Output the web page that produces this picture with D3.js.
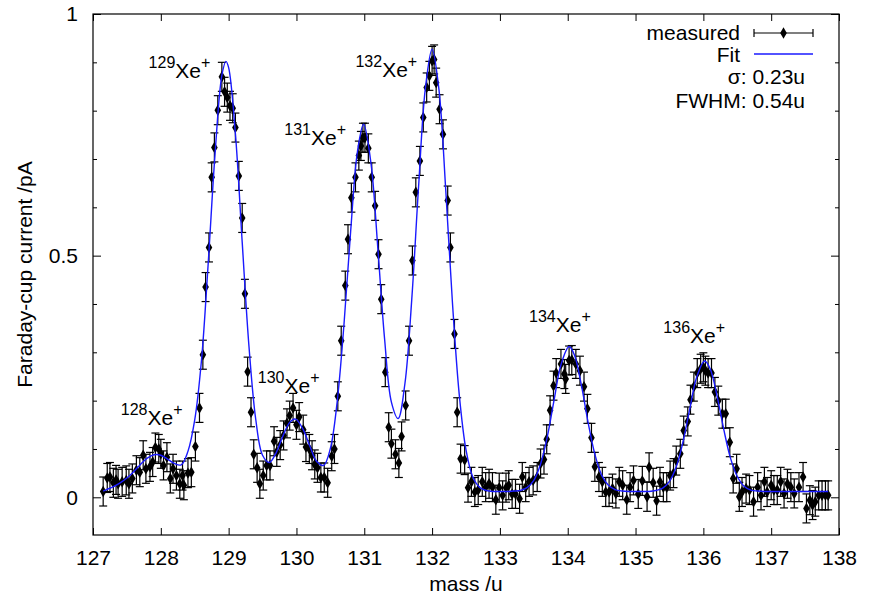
<!doctype html>
<meta charset="utf-8" />
<style>
    body {
        margin: 0;
        background: #fff;
    }
    svg {
        display: block;
        font-family: "Liberation Sans", Arial, sans-serif;
    }
</style>
<svg></svg>

<script src="https://cdn.jsdelivr.net/npm/d3@7/dist/d3.min.js"></script>
<script>
    // axis ticks
    var xTicks = [127, 128, 129, 130, 131, 132, 133, 134, 135, 136, 137, 138]
    var yTicks = [0, 0.5, 1]
    var yMinorTicks = [0.1, 0.2, 0.3, 0.4, 0.6, 0.7, 0.8, 0.9]

    // measured points [mass /u, current /pA]
    var measured = [
        [127.15, 0.012], [127.21, 0.040], [127.25, 0.042], [127.30, 0.030], [127.34, 0.036],
        [127.37, 0.028], [127.43, 0.032], [127.49, 0.035], [127.53, 0.028], [127.58, 0.039],
        [127.64, 0.056], [127.69, 0.052], [127.74, 0.087], [127.78, 0.059], [127.84, 0.063],
        [127.88, 0.073], [127.92, 0.103], [127.97, 0.100], [128.00, 0.090], [128.04, 0.066],
        [128.09, 0.083], [128.14, 0.039], [128.18, 0.059], [128.23, 0.045], [128.28, 0.028],
        [128.32, 0.045], [128.34, 0.025], [128.40, 0.050], [128.45, 0.052], [128.51, 0.105],
        [128.57, 0.185], [128.62, 0.295], [128.66, 0.435], [128.71, 0.517], [128.75, 0.662],
        [128.79, 0.724], [128.84, 0.801], [128.90, 0.870], [128.94, 0.839], [128.98, 0.827],
        [129.02, 0.810], [129.06, 0.805], [129.10, 0.765], [129.15, 0.665], [129.20, 0.578],
        [129.24, 0.421], [129.28, 0.260], [129.33, 0.176], [129.37, 0.089], [129.42, 0.061],
        [129.46, 0.028], [129.51, 0.045], [129.56, 0.066], [129.61, 0.066], [129.67, 0.116],
        [129.71, 0.094], [129.76, 0.108], [129.81, 0.128], [129.86, 0.153], [129.90, 0.169],
        [129.95, 0.185], [130.00, 0.150], [130.04, 0.166], [130.10, 0.140], [130.14, 0.104],
        [130.19, 0.100], [130.23, 0.087], [130.27, 0.068], [130.31, 0.061], [130.36, 0.041],
        [130.41, 0.041], [130.46, 0.030], [130.52, 0.085], [130.56, 0.100], [130.61, 0.209],
        [130.66, 0.324], [130.72, 0.438], [130.76, 0.534], [130.81, 0.620], [130.87, 0.662],
        [130.92, 0.707], [130.95, 0.727], [130.98, 0.744], [131.01, 0.744], [131.06, 0.722],
        [131.11, 0.662], [131.16, 0.603], [131.21, 0.503], [131.25, 0.410], [131.31, 0.259],
        [131.36, 0.145], [131.40, 0.111], [131.46, 0.089], [131.51, 0.071], [131.55, 0.126],
        [131.61, 0.190], [131.66, 0.324], [131.71, 0.490], [131.76, 0.631], [131.82, 0.696],
        [131.87, 0.786], [131.92, 0.848], [131.96, 0.872], [132.00, 0.903], [132.03, 0.906],
        [132.06, 0.858], [132.11, 0.803], [132.16, 0.751], [132.23, 0.614], [132.27, 0.517],
        [132.33, 0.338], [132.37, 0.176], [132.42, 0.080], [132.48, 0.077], [132.53, 0.020],
        [132.58, 0.032], [132.63, 0.011], [132.68, 0.015], [132.74, 0.032], [132.79, 0.021],
        [132.84, 0.028], [132.89, 0.021], [132.94, -0.005], [132.99, 0.020], [133.04, 0.004],
        [133.09, 0.020], [133.13, 0.025], [133.18, 0.007], [133.23, 0.007], [133.29, -0.003],
        [133.33, 0.042], [133.38, 0.021], [133.43, 0.032], [133.49, 0.035], [133.55, 0.042],
        [133.60, 0.070], [133.65, 0.078], [133.69, 0.120], [133.74, 0.180], [133.79, 0.231],
        [133.83, 0.257], [133.90, 0.276], [133.95, 0.255], [133.97, 0.245], [134.02, 0.283],
        [134.06, 0.284], [134.12, 0.276], [134.18, 0.262], [134.24, 0.229], [134.29, 0.183],
        [134.35, 0.123], [134.40, 0.063], [134.46, 0.042], [134.51, 0.032], [134.56, 0.011],
        [134.61, 0.011], [134.66, 0.018], [134.71, 0.008], [134.76, 0.032], [134.81, 0.025],
        [134.87, -0.005], [134.92, 0.021], [134.97, 0.035], [135.04, 0.007], [135.10, 0.034],
        [135.17, 0.001], [135.20, 0.062], [135.26, 0.030], [135.31, -0.007], [135.36, 0.032],
        [135.41, 0.021], [135.46, 0.021], [135.51, 0.045], [135.56, 0.050], [135.60, 0.076],
        [135.66, 0.090], [135.71, 0.138], [135.77, 0.157], [135.81, 0.202], [135.86, 0.229],
        [135.91, 0.257], [135.96, 0.266], [136.00, 0.269], [136.03, 0.262], [136.07, 0.257],
        [136.12, 0.257], [136.17, 0.218], [136.22, 0.200], [136.28, 0.173], [136.33, 0.173],
        [136.39, 0.114], [136.44, 0.039], [136.49, 0.059], [136.53, 0.001], [136.57, 0.011],
        [136.63, 0.018], [136.68, 0.015], [136.74, -0.009], [136.80, 0.021], [136.85, 0.004],
        [136.90, 0.032], [136.94, 0.011], [137.00, 0.025], [137.04, 0.015], [137.09, 0.015],
        [137.14, 0.032], [137.19, 0.008], [137.24, 0.028], [137.29, 0.021], [137.34, 0.008],
        [137.41, 0.021], [137.47, 0.042], [137.52, -0.023], [137.57, -0.006], [137.61, -0.016],
        [137.65, -0.009], [137.70, 0.004], [137.75, 0.004], [137.80, 0.004], [137.84, 0.004]
    ]
    var errorBar = 0.03

    // fitted curve, sampled off the plot
    var fitMass = [
        127.15, 127.2, 127.3, 127.4, 127.5, 127.6, 127.7, 127.8, 127.9, 128.0,
        128.1, 128.2, 128.3, 128.4, 128.5, 128.6, 128.7, 128.8, 128.9, 128.96,
        129.0, 129.1, 129.2, 129.3, 129.4, 129.5, 129.6, 129.7, 129.8, 129.9,
        129.97, 130.0, 130.1, 130.2, 130.3, 130.4, 130.5, 130.6, 130.7, 130.8,
        130.9, 130.99, 131.1, 131.2, 131.3, 131.4, 131.5, 131.6, 131.7, 131.8,
        131.9, 132.0, 132.1, 132.2, 132.3, 132.4, 132.5, 132.6, 132.7, 132.8,
        132.9, 133.0, 133.1, 133.2, 133.3, 133.4, 133.5, 133.6, 133.7, 133.8,
        133.9, 134.02, 134.1, 134.2, 134.3, 134.4, 134.5, 134.6, 134.7, 134.8,
        134.9, 135.0, 135.1, 135.2, 135.3, 135.4, 135.5, 135.6, 135.7, 135.8,
        135.9, 136.02, 136.1, 136.2, 136.3, 136.4, 136.5, 136.6, 136.7, 136.8,
        136.9, 137.0, 137.2, 137.4, 137.6, 137.84
    ]
    var fitCurrent = [
        0.013, 0.016, 0.022, 0.030, 0.040, 0.053, 0.068, 0.081, 0.088, 0.087,
        0.079, 0.070, 0.067, 0.095, 0.160, 0.284, 0.487, 0.711, 0.873, 0.902,
        0.889, 0.752, 0.528, 0.312, 0.161, 0.087, 0.072, 0.092, 0.127, 0.155,
        0.162, 0.161, 0.140, 0.105, 0.074, 0.066, 0.101, 0.197, 0.356, 0.552,
        0.716, 0.772, 0.690, 0.515, 0.327, 0.197, 0.163, 0.236, 0.409, 0.641,
        0.845, 0.927, 0.845, 0.639, 0.403, 0.213, 0.098, 0.042, 0.021, 0.014,
        0.012, 0.012, 0.012, 0.013, 0.014, 0.020, 0.035, 0.069, 0.126, 0.202,
        0.274, 0.312, 0.294, 0.233, 0.155, 0.089, 0.046, 0.025, 0.016, 0.013,
        0.012, 0.012, 0.012, 0.012, 0.014, 0.019, 0.033, 0.063, 0.115, 0.183,
        0.248, 0.282, 0.266, 0.211, 0.141, 0.081, 0.043, 0.023, 0.015, 0.013,
        0.012, 0.012, 0.012, 0.012, 0.012, 0.012
    ]

    // peak labels: isotope, anchor mass, anchor current
    var isotopes = ['128', '129', '130', '131', '132', '134', '136']
    var labelMass = [127.41, 127.82, 129.43, 129.82, 130.87, 133.43, 135.41]
    var labelCurrent = [0.150, 0.868, 0.215, 0.729, 0.870, 0.341, 0.320]

    var legendRows = ['measured', 'Fit', 'σ: 0.23u', 'FWHM: 0.54u']

    var W = 875, H = 601
    var pLeft = 93, pRight = 839, pTop = 14, pBottom = 535

    var svg = d3.select('svg')
        .attr('width', W)
        .attr('height', H)

    svg.append('rect')
        .attr('width', W)
        .attr('height', H)
        .style('fill', 'white')

    var x = d3.scaleLinear().domain([127, 138]).range([pLeft, pRight])
    var y = d3.scaleLinear().domain([-0.078, 1]).range([pBottom, pTop])

    function styleAxis(g) {
        g.select('.domain').remove()
        g.selectAll('.tick line').style('stroke', '#000').style('stroke-width', 1)
        g.selectAll('text')
            .style('font-size', '21px')
            .style('font-family', '"Liberation Sans", Arial, sans-serif')
            .style('fill', '#000')
    }

    // axes, ticks pointing inward on all four sides
    svg.append('g')
        .attr('transform', 'translate(0,' + pBottom + ')')
        .call(d3.axisBottom(x).tickValues(xTicks).tickSize(-7).tickPadding(15).tickFormat(d3.format('d')))
        .call(styleAxis)

    svg.append('g')
        .attr('transform', 'translate(0,' + pTop + ')')
        .call(d3.axisTop(x).tickValues(xTicks).tickSize(-7).tickFormat(''))
        .call(styleAxis)

    svg.append('g')
        .attr('transform', 'translate(' + pLeft + ',0)')
        .call(d3.axisLeft(y).tickValues(yTicks).tickSize(-8).tickPadding(15).tickFormat(String))
        .call(styleAxis)

    svg.append('g')
        .attr('transform', 'translate(' + pLeft + ',0)')
        .call(d3.axisLeft(y).tickValues(yMinorTicks).tickSize(-4).tickFormat(''))
        .call(styleAxis)

    svg.append('g')
        .attr('transform', 'translate(' + pRight + ',0)')
        .call(d3.axisRight(y).tickValues(yTicks).tickSize(-8).tickFormat(''))
        .call(styleAxis)

    svg.append('g')
        .attr('transform', 'translate(' + pRight + ',0)')
        .call(d3.axisRight(y).tickValues(yMinorTicks).tickSize(-4).tickFormat(''))
        .call(styleAxis)

    svg.append('rect')
        .attr('x', pLeft)
        .attr('y', pTop)
        .attr('width', pRight - pLeft)
        .attr('height', pBottom - pTop)
        .style('fill', 'none')
        .style('stroke', '#000')
        .style('stroke-width', 1.2)

    // axis titles
    svg.append('text')
        .attr('x', (pLeft + pRight) / 2)
        .attr('y', 591)
        .attr('text-anchor', 'middle')
        .style('font-size', '21px')
        .text('mass /u')

    svg.append('text')
        .attr('transform', 'translate(32,' + (pTop + pBottom) / 2 + ') rotate(-90)')
        .attr('text-anchor', 'middle')
        .style('font-size', '21px')
        .text('Faraday-cup current /pA')

    // error bars + points
    var pts = svg.append('g')
    var cap = 4

    var eb = pts.selectAll('g.eb')
        .data(measured)
        .enter().append('g')
        .attr('class', 'eb')
        .style('stroke', '#000')
        .style('stroke-width', 1.2)

    eb.append('line')
        .attr('x1', d => x(d[0])).attr('x2', d => x(d[0]))
        .attr('y1', d => y(d[1] - errorBar)).attr('y2', d => y(d[1] + errorBar))
    eb.append('line')
        .attr('x1', d => x(d[0]) - cap).attr('x2', d => x(d[0]) + cap)
        .attr('y1', d => y(d[1] - errorBar)).attr('y2', d => y(d[1] - errorBar))
    eb.append('line')
        .attr('x1', d => x(d[0]) - cap).attr('x2', d => x(d[0]) + cap)
        .attr('y1', d => y(d[1] + errorBar)).attr('y2', d => y(d[1] + errorBar))

    var dot = d3.symbol().type(d3.symbolDiamond).size(38)

    pts.selectAll('path.pt')
        .data(measured)
        .enter().append('path')
        .attr('class', 'pt')
        .attr('d', dot)
        .attr('transform', d => 'translate(' + x(d[0]) + ',' + y(d[1]) + ')')
        .style('fill', '#000')

    // fit
    var fitLine = d3.line()
        .x((d, i) => x(fitMass[i]))
        .y(d => y(d))
        .curve(d3.curveCatmullRom.alpha(0.5))

    svg.append('path')
        .attr('d', fitLine(fitCurrent))
        .style('fill', 'none')
        .style('stroke', '#1a1aff')
        .style('stroke-width', 1.4)

    // peak labels
    isotopes.forEach(function (iso, i) {
        var t = svg.append('text')
            .attr('x', x(labelMass[i]))
            .attr('y', y(labelCurrent[i]))
            .style('fill', '#000')
        t.append('tspan').attr('dy', -10).style('font-size', '16px').text(iso)
        t.append('tspan').attr('dy', 10).style('font-size', '21px').text('Xe')
        t.append('tspan').attr('dy', -10).style('font-size', '16px').text('+')
    })

    // legend
    var legX = 740, sampleL = 754, sampleR = 813
    var rowBase = [40, 62, 84, 108]

    legendRows.forEach(function (s, i) {
        svg.append('text')
            .attr('x', i < 2 ? legX : 805)
            .attr('y', rowBase[i])
            .attr('text-anchor', 'end')
            .style('font-size', '21px')
            .text(s)
    })

    var ly = 33
    var lg = svg.append('g').style('stroke', '#000').style('stroke-width', 1.2)
    lg.append('line').attr('x1', sampleL).attr('x2', sampleR).attr('y1', ly).attr('y2', ly)
    lg.append('line').attr('x1', sampleL).attr('x2', sampleL).attr('y1', ly - 4).attr('y2', ly + 4)
    lg.append('line').attr('x1', sampleR).attr('x2', sampleR).attr('y1', ly - 4).attr('y2', ly + 4)
    svg.append('path')
        .attr('d', dot)
        .attr('transform', 'translate(' + (sampleL + sampleR) / 2 + ',' + ly + ')')
        .style('fill', '#000')

    svg.append('line')
        .attr('x1', sampleL).attr('x2', sampleR)
        .attr('y1', 54).attr('y2', 54)
        .style('stroke', '#1a1aff')
        .style('stroke-width', 1.4)
</script>
